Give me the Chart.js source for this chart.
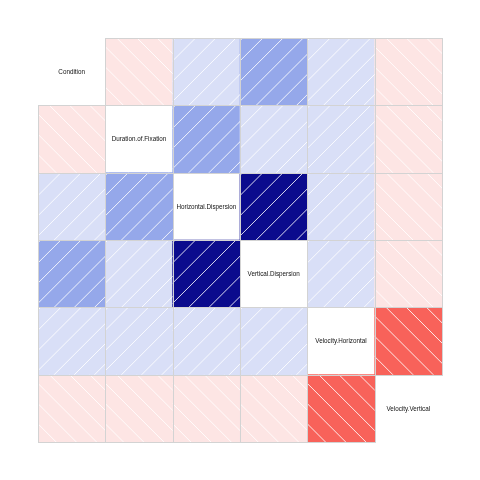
<!DOCTYPE html>
<html><head><meta charset="utf-8">
<script src="https://cdn.jsdelivr.net/npm/chart.js@4"></script>
<style>html,body{margin:0;padding:0;background:#fff;} #wrap{width:480px;height:480px;position:relative;}</style>
</head><body><div id="wrap"><canvas id="c"></canvas></div>
<script>
// ---- data ----
const variables = ["Condition","Duration.of.Fixation","Horizontal.Dispersion","Vertical.Dispersion","Velocity.Horizontal","Velocity.Vertical"];
const corrCondition  = [ 1.00, -0.08,  0.10,  0.40,  0.10, -0.08];
const corrDuration   = [-0.08,  1.00,  0.40,  0.10,  0.10, -0.08];
const corrHorizDisp  = [ 0.10,  0.40,  1.00,  0.90,  0.10, -0.08];
const corrVertDisp   = [ 0.40,  0.10,  0.90,  1.00,  0.10, -0.08];
const corrVelHoriz   = [ 0.10,  0.10,  0.10,  0.10,  1.00, -0.60];
const corrVelVert    = [-0.08, -0.08, -0.08, -0.08, -0.60,  1.00];
const corrRows = [corrCondition, corrDuration, corrHorizDisp, corrVertDisp, corrVelHoriz, corrVelVert];

// ---- styles ----
function shade(v){
  if (v >= 0.75) return '#0B0B8D';
  if (v >= 0.3)  return '#95A8EA';
  if (v > 0)     return '#D9DFF7';
  if (v > -0.3)  return '#FDE5E4';
  return '#F8625A';
}

const datasets = corrRows.map((row, r) => ({
  label: variables[r],
  data: variables.map(() => [r, r + 1]),
  backgroundColor: row.map((v, c) => c === r ? 'rgba(0,0,0,0)' : shade(v)),
  borderWidth: 0,
  grouped: false,
  barPercentage: 1,
  categoryPercentage: 1
}));

const cellPlugin = {
  id: 'cells',
  afterDatasetsDraw(chart) {
    const ctx = chart.ctx;
    chart.data.datasets.forEach((ds, r) => {
      const meta = chart.getDatasetMeta(r);
      meta.data.forEach((el, c) => {
        const p = el.getProps(['x','y','base','width'], true);
        const left = p.x - p.width / 2, right = p.x + p.width / 2;
        const top = Math.min(p.y, p.base), bottom = Math.max(p.y, p.base);
        const w = right - left, h = bottom - top;
        ctx.save();
        if (c === r) {
          ctx.fillStyle = '#111';
          ctx.font = '6.3px "Liberation Sans", Arial, sans-serif';
          ctx.textAlign = 'center';
          ctx.textBaseline = 'middle';
          ctx.fillText(variables[r], p.x, (top + bottom) / 2 + 0.5);
        } else {
          const v = corrRows[r][c];
          ctx.beginPath();
          ctx.rect(left, top, w, h);
          ctx.clip();
          ctx.strokeStyle = 'rgba(255,255,255,0.85)';
          ctx.lineWidth = 1;
          ctx.beginPath();
          for (let k = -6; k <= 8; k++) {
            if (v > 0) {
              const a = 0.06 + 0.3 * k; // v = u + a
              ctx.moveTo(left + (-0.2) * w, bottom - (-0.2 + a) * h);
              ctx.lineTo(left + 1.2 * w, bottom - (1.2 + a) * h);
            } else {
              const b = 0.27 + 0.3 * k; // v = -u + b
              ctx.moveTo(left + (-0.2) * w, bottom - (0.2 + b) * h);
              ctx.lineTo(left + 1.2 * w, bottom - (-1.2 + b) * h);
            }
          }
          ctx.stroke();
          ctx.restore();
          ctx.save();
          ctx.strokeStyle = '#D3D3D3';
          ctx.lineWidth = 1;
          ctx.strokeRect(Math.round(left) + 0.5, Math.round(top) + 0.5, Math.round(right) - Math.round(left), Math.round(bottom) - Math.round(top));
        }
        ctx.restore();
      });
    });
  }
};

new Chart(document.getElementById('c'), {
  type: 'bar',
  data: { labels: variables, datasets },
  options: {
    responsive: true,
    maintainAspectRatio: false,
    animation: false,
    layout: { padding: { left: 38, right: 38, top: 38, bottom: 38 } },
    plugins: { legend: { display: false }, tooltip: { enabled: false } },
    scales: {
      x: { type: 'category', display: false, offset: true },
      y: { type: 'linear', display: false, min: 0, max: 6, reverse: true }
    }
  },
  plugins: [cellPlugin]
});
</script></body></html>
